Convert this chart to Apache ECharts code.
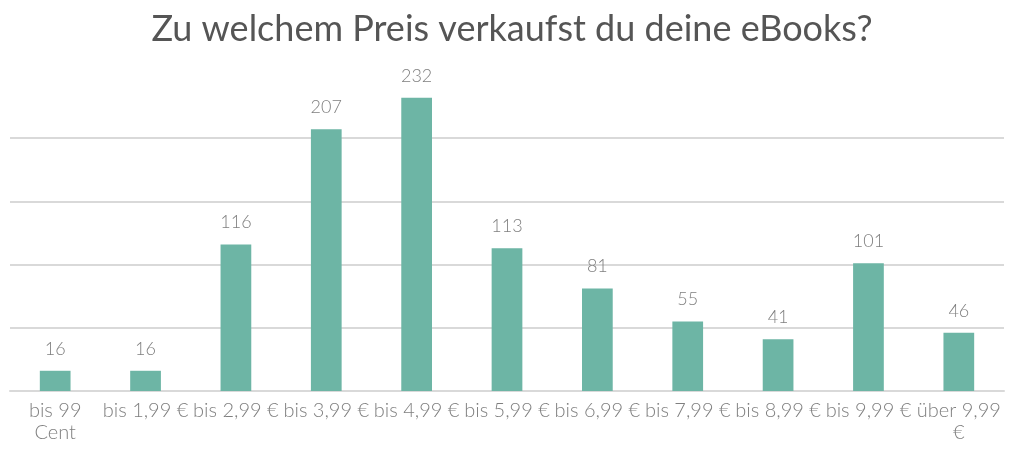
<!DOCTYPE html>
<html><head><meta charset="utf-8">
<script src="https://cdn.jsdelivr.net/npm/echarts@6/dist/echarts.min.js"></script>
<style>html,body{margin:0;padding:0;background:#fff}#c{width:1024px;height:452px}</style>
</head><body><div id="c"></div>
<script>
const title = 'Zu welchem Preis verkaufst du deine eBooks?';
const categories = ['bis 99\nCent','bis 1,99 €','bis 2,99 €','bis 3,99 €','bis 4,99 €','bis 5,99 €','bis 6,99 €','bis 7,99 €','bis 8,99 €','bis 9,99 €','über 9,99\n€'];
const values = [16,16,116,207,232,113,81,55,41,101,46];
const yMin = 0, yMax = 250, yInterval = 50;

const chart = echarts.init(document.getElementById('c'), null, {renderer:'canvas'});
chart.setOption({
  animation:false,
  backgroundColor:'#ffffff',
  title:{text:title,left:'center',top:6,textStyle:{fontFamily:'Lato',fontSize:36,fontWeight:'normal',color:'#555555'}},
  grid:{left:10,right:20,top:75,bottom:61,containLabel:false},
  xAxis:{type:'category',data:categories,
    axisLine:{show:true,lineStyle:{color:'#d9d9d9',width:2}},
    axisTick:{show:false},
    axisLabel:{interval:0,margin:9,fontFamily:'Lato',fontSize:20,fontWeight:300,color:'#7f7f7f',lineHeight:22}},
  yAxis:{type:'value',min:yMin,max:yMax,interval:yInterval,
    axisLabel:{show:false},axisLine:{show:false},axisTick:{show:false},
    splitLine:{show:true,showMaxLine:false,lineStyle:{color:'#d9d9d9',width:2}}},
  series:[{type:'bar',data:values,barWidth:'34%',
    itemStyle:{color:'#6db5a5'},
    label:{show:true,position:'top',distance:13,fontFamily:'Lato',fontSize:18,fontWeight:300,color:'#7f7f7f'}}]
});
</script></body></html>
